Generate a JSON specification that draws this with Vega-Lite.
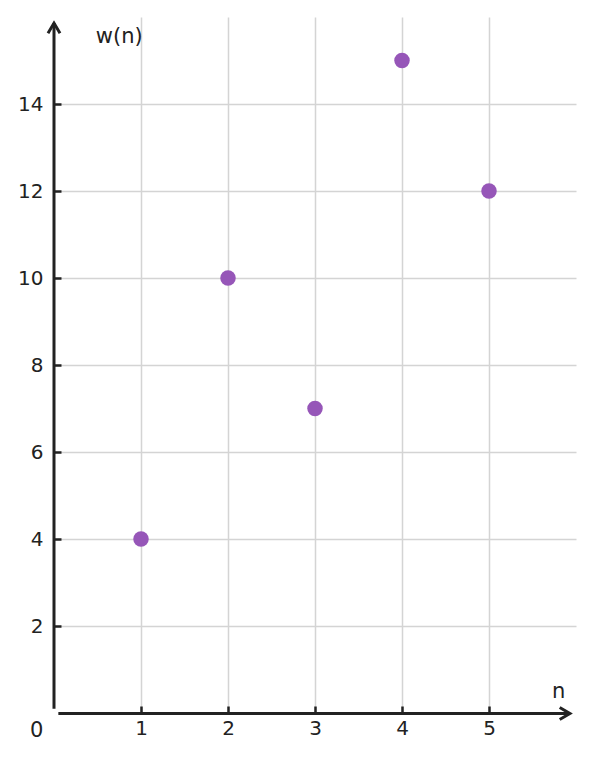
{
  "$schema": "https://vega.github.io/schema/vega-lite/v6.json",
  "width": 522,
  "height": 696,
  "autosize": "none",
  "padding": {"left": 54, "top": 17, "right": 17, "bottom": 48},
  "background": "white",
  "config": {
    "view": {"stroke": null},
    "font": "DejaVu Sans",
    "axis": {
      "domain": false,
      "gridColor": "#d4d4d4",
      "gridWidth": 1.5,
      "gridOpacity": 1,
      "tickColor": "#222222",
      "tickWidth": 2.5,
      "tickSize": -7,
      "labelFont": "DejaVu Sans",
      "labelFontSize": 20,
      "labelColor": "#222222",
      "format": "d",
      "title": null
    }
  },
  "datasets": {
    "points": [
      {"n": 1, "w": 4},
      {"n": 2, "w": 10},
      {"n": 3, "w": 7},
      {"n": 4, "w": 15},
      {"n": 5, "w": 12}
    ],
    "axes": [
      {"axis": "x", "x1": 0.05, "x2": 5.93, "y1": -0.01, "y2": -0.01},
      {"axis": "y", "x1": 0, "x2": 0, "y1": 0.1, "y2": 15.86}
    ],
    "arrows": [
      {"axis": "x", "x": 5.93, "y": -0.01},
      {"axis": "y", "x": 0, "y": 15.86}
    ],
    "labels": [
      {"label": "w(n)", "x": 0.75, "y": 15.55},
      {"label": "n", "x": 5.8, "y": 0.48},
      {"label": "0", "x": -0.2, "y": -0.42}
    ]
  },
  "layer": [
    {
      "data": {"name": "points"},
      "mark": {"type": "circle", "size": 240, "opacity": 1, "color": "#9656b8"},
      "encoding": {
        "x": {
          "field": "n",
          "type": "quantitative",
          "scale": {"domain": [0, 6], "nice": false},
          "axis": {"values": [1, 2, 3, 4, 5], "labelPadding": 12, "format": "d"}
        },
        "y": {
          "field": "w",
          "type": "quantitative",
          "scale": {"domain": [0, 16], "nice": false},
          "axis": {"values": [2, 4, 6, 8, 10, 12, 14], "labelPadding": 18, "format": "d"}
        }
      }
    },
    {
      "data": {"name": "axes"},
      "mark": {"type": "rule", "color": "#222222", "strokeWidth": 3},
      "encoding": {
        "x": {"field": "x1", "type": "quantitative"},
        "x2": {"field": "x2"},
        "y": {"field": "y1", "type": "quantitative"},
        "y2": {"field": "y2"}
      }
    },
    {
      "data": {"name": "arrows"},
      "mark": {"type": "point", "filled": false, "stroke": "#222222", "strokeWidth": 3, "size": 144, "opacity": 1},
      "encoding": {
        "x": {"field": "x", "type": "quantitative"},
        "y": {"field": "y", "type": "quantitative"},
        "shape": {
          "field": "axis",
          "type": "nominal",
          "scale": {"domain": ["x", "y"], "range": ["M-1.7,-1L0,0L-1.7,1", "M-1,1.7L0,0L1,1.7"]},
          "legend": null
        }
      }
    },
    {
      "data": {"name": "labels"},
      "mark": {"type": "text", "font": "DejaVu Sans", "fontSize": 21, "color": "#222222", "align": "center", "baseline": "middle"},
      "encoding": {
        "x": {"field": "x", "type": "quantitative"},
        "y": {"field": "y", "type": "quantitative"},
        "text": {"field": "label"}
      }
    }
  ]
}
